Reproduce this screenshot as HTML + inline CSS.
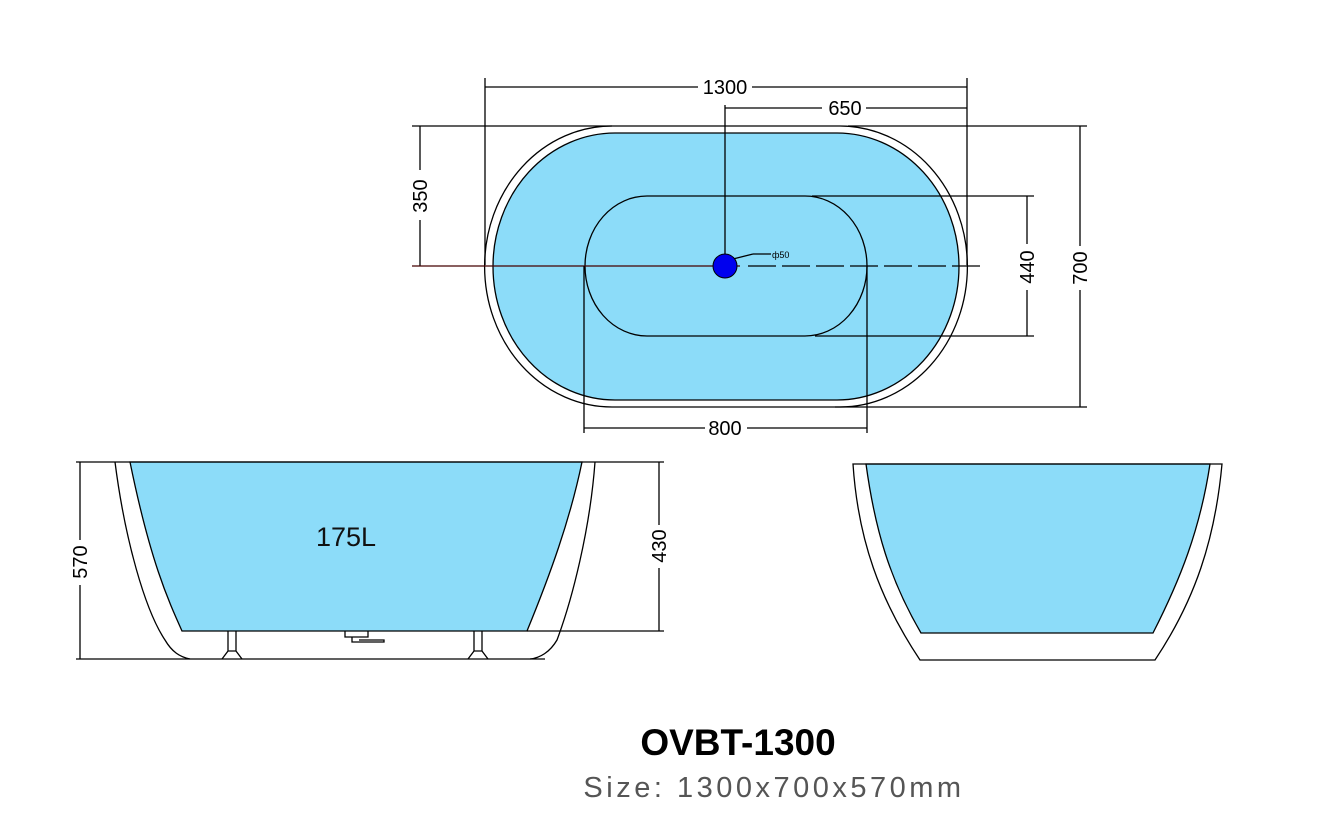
<!DOCTYPE html>
<html><head><style>
html,body{margin:0;padding:0;background:#fff;}
svg{display:block;}
text{font-family:"Liberation Sans",sans-serif;}
</style></head><body>
<svg width="1319" height="825" viewBox="0 0 1319 825" xmlns="http://www.w3.org/2000/svg">
<g stroke="#000" stroke-width="1.3" fill="none">
<path d="M612,126 H840 A127,140 0 0 1 840,407 H612 A127,140 0 0 1 612,126 Z"/>
<path d="M615,133 H837 A122,133.5 0 0 1 837,400 H615 A122,133.5 0 0 1 615,133 Z" fill="#8cdcf9"/>
<path d="M647,196 H805 A62,70 0 0 1 805,336 H647 A62,70 0 0 1 647,196 Z"/>
<line x1="485" y1="87" x2="698" y2="87"/><line x1="752" y1="87" x2="967" y2="87"/>
<line x1="485" y1="78" x2="485" y2="265"/><line x1="967" y1="78" x2="967" y2="265"/>
<line x1="725" y1="108" x2="822" y2="108"/><line x1="866" y1="108" x2="967" y2="108"/>
<line x1="725" y1="105" x2="725" y2="266"/>
<line x1="412" y1="126" x2="612" y2="126"/><line x1="848" y1="126" x2="1087" y2="126"/>
<line x1="835" y1="407" x2="1087" y2="407"/>
<line x1="420" y1="126" x2="420" y2="170"/><line x1="420" y1="220" x2="420" y2="266"/>
<line x1="412" y1="266" x2="740" y2="266" stroke="#400"/>
<line x1="748" y1="266" x2="980" y2="266" stroke-dasharray="28,6"/>
<line x1="812" y1="196" x2="1034" y2="196"/><line x1="815" y1="336" x2="1034" y2="336"/>
<line x1="1027" y1="196" x2="1027" y2="244"/><line x1="1027" y1="290" x2="1027" y2="336"/>
<line x1="1080" y1="126" x2="1080" y2="246"/><line x1="1080" y1="290" x2="1080" y2="407"/>
<line x1="584" y1="266" x2="584" y2="433"/><line x1="867" y1="266" x2="867" y2="433"/>
<line x1="584" y1="428" x2="705" y2="428"/><line x1="747" y1="428" x2="867" y2="428"/>
<line x1="733" y1="259" x2="753" y2="254"/><line x1="753" y1="254" x2="771" y2="254"/>
<path d="M130,462 C150,560 168,600 182,631 H527 C550,575 570,520 582,462 Z" fill="#8cdcf9"/>
<path d="M115,462 C125,540 145,610 165,640 C172,652 180,657 190,659"/>
<path d="M595,462 C590,530 572,600 557,640 C550,652 540,658 530,659"/>
<line x1="76" y1="462" x2="664" y2="462"/>
<line x1="76" y1="659" x2="545" y2="659"/>
<line x1="527" y1="631" x2="664" y2="631"/>
<line x1="80" y1="462" x2="80" y2="540"/><line x1="80" y1="585" x2="80" y2="659"/>
<line x1="659" y1="462" x2="659" y2="525"/><line x1="659" y1="568" x2="659" y2="631"/>
<path d="M228,631 V651 L222,659 M236,631 V651 L242,659 M228,651 H236"/>
<path d="M474,631 V651 L468,659 M482,631 V651 L488,659 M474,651 H482"/>
<path d="M345,631 V637 H368 V631 M352,637 V642 H384 V640 H359"/>
<path d="M866,464 C875,530 890,580 921,633 H1153 C1180,580 1200,530 1210,464 Z" fill="#8cdcf9"/>
<path d="M853,464 C858,540 880,600 920,660 H1155 C1195,600 1215,540 1222,464 Z"/>
</g>
<circle cx="725" cy="266" r="12" fill="#0000ee" stroke="#000" stroke-width="1"/>
<g fill="#000" font-size="20">
<text x="725" y="94" text-anchor="middle">1300</text>
<text x="845" y="115" text-anchor="middle">650</text>
<text x="725" y="435" text-anchor="middle">800</text>
<text x="772" y="258" font-size="9">ф50</text>
<text transform="translate(427,196) rotate(-90)" text-anchor="middle">350</text>
<text transform="translate(1034,267) rotate(-90)" text-anchor="middle">440</text>
<text transform="translate(1087,268) rotate(-90)" text-anchor="middle">700</text>
<text transform="translate(87,562) rotate(-90)" text-anchor="middle">570</text>
<text transform="translate(666,546) rotate(-90)" text-anchor="middle">430</text>
<text x="346" y="546" font-size="27" text-anchor="middle" fill="#111">175L</text>
<text x="738" y="755" font-size="37" font-weight="bold" text-anchor="middle">OVBT-1300</text>
<text x="774" y="797" font-size="29" text-anchor="middle" fill="#555" letter-spacing="3.5">Size: 1300x700x570mm</text>
</g>
</svg>
</body></html>
